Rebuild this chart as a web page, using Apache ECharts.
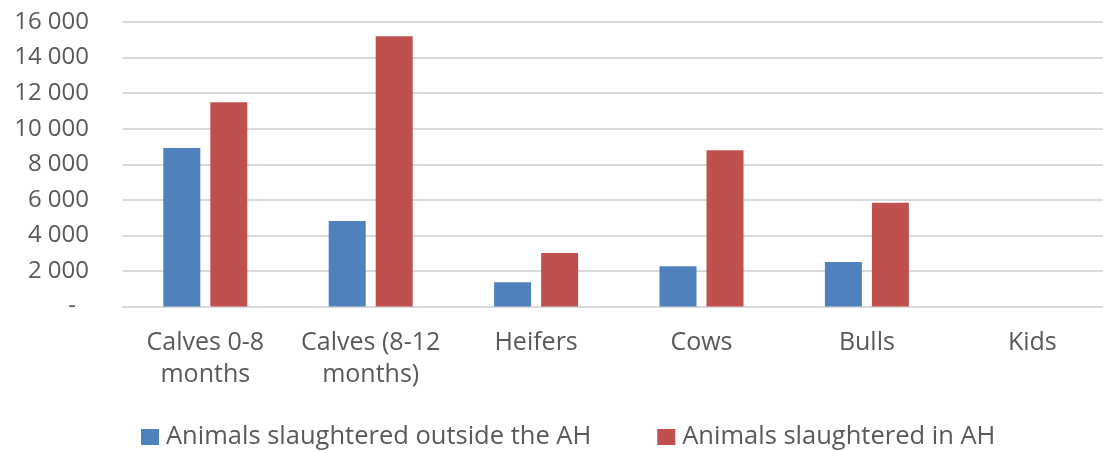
<!DOCTYPE html>
<html>
<head>
<meta charset="utf-8">
<script src="https://cdn.jsdelivr.net/npm/echarts@6/dist/echarts.min.js"></script>
<style>
  html, body { margin: 0; padding: 0; background: #fff; }
  #chart { width: 1103px; height: 451px; }
</style>
</head>
<body>
<div id="chart"></div>
<script>
// Livestock slaughter counts by animal category
const categories = ['Calves 0-8\nmonths', 'Calves (8-12\nmonths)', 'Heifers', 'Cows', 'Bulls', 'Kids'];
const outsideAH = [8910, 4810, 1360, 2260, 2500, 0];
const inAH = [11480, 15200, 3010, 8790, 5840, 0];
const seriesNames = ['Animals slaughtered outside the AH', 'Animals slaughtered in AH'];
const yTicks = { min: 0, max: 16000, step: 2000 };

const FONT = '"Open Sans", "Noto Sans", sans-serif';
const TEXT = '#595959';

function fmt(v) {
  if (v === 0) return '{dash|-}';
  return String(v).replace(/\B(?=(\d{3})+(?!\d))/g, ' ');
}

const chart = echarts.init(document.getElementById('chart'), null, { renderer: 'canvas' });
chart.setOption({
  animation: false,
  backgroundColor: '#fff',
  textStyle: { fontFamily: FONT, color: TEXT },
  grid: { left: 122.6, right: -12, top: 22, bottom: 144.5, containLabel: false, outerBoundsMode: 'none' },
  legend: {
    left: 136,
    top: 419,
    padding: 5,
    itemWidth: 18,
    itemHeight: 16,
    itemGap: 66,
    icon: 'rect',
    textStyle: { fontFamily: FONT, fontSize: 25.5, color: TEXT, lineHeight: 26, padding: [0, 0, 0, 2] },
    data: seriesNames
  },
  xAxis: {
    type: 'category',
    data: categories,
    axisLine: { show: true, lineStyle: { color: '#d9d9d9', width: 2 } },
    axisTick: { show: false },
    axisLabel: {
      interval: 0,
      margin: 20,
      fontFamily: FONT,
      fontSize: 25,
      color: TEXT,
      lineHeight: 32.5
    }
  },
  yAxis: {
    type: 'value',
    min: yTicks.min,
    max: yTicks.max,
    interval: yTicks.step,
    axisLine: { show: false },
    axisTick: { show: false },
    splitLine: { lineStyle: { color: '#d9d9d9', width: 2 } },
    axisLabel: {
      margin: 33.6,
      fontFamily: FONT,
      fontSize: 24,
      color: TEXT,
      formatter: fmt,
      rich: { dash: { fontFamily: FONT, fontSize: 24, color: TEXT, padding: [0, 13, 0, 0] } }
    }
  },
  series: [
    {
      name: seriesNames[0],
      type: 'bar',
      data: outsideAH,
      barWidth: 37,
      barGap: '27%',
      itemStyle: { color: '#4f81bd' }
    },
    {
      name: seriesNames[1],
      type: 'bar',
      data: inAH,
      barWidth: 37,
      barGap: '27%',
      itemStyle: { color: '#c0504d' }
    }
  ]
});
</script>
</body>
</html>
